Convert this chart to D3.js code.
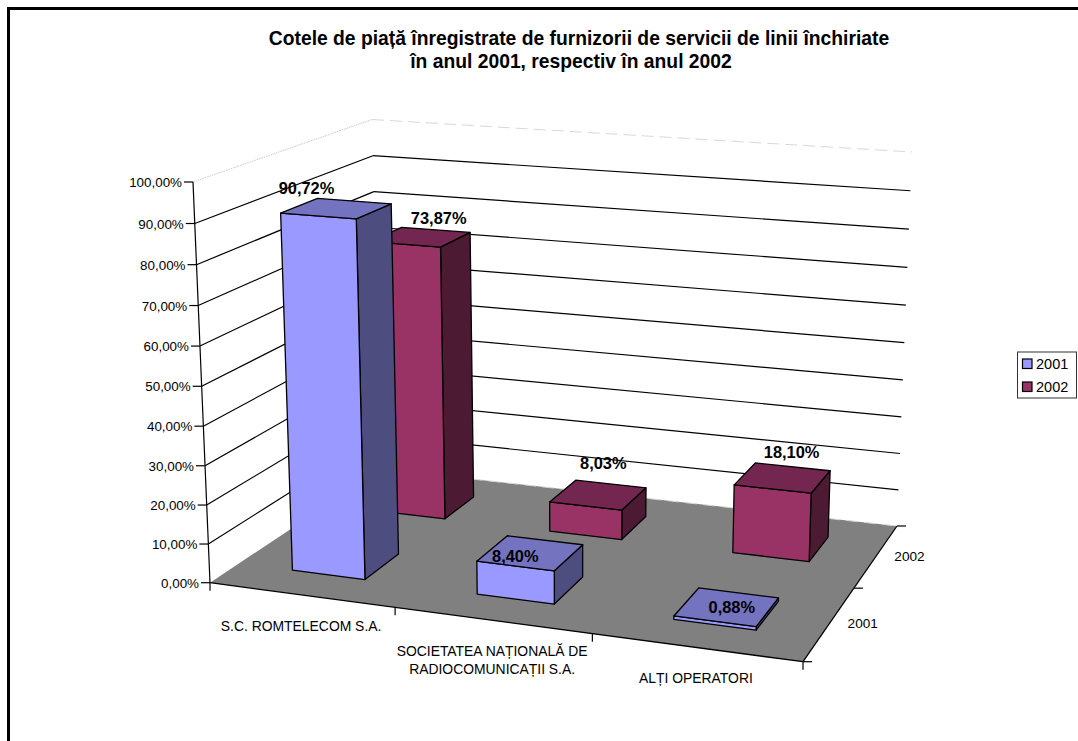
<!DOCTYPE html>
<html>
<head>
<meta charset="utf-8">
<script src="https://cdn.jsdelivr.net/npm/d3@7"></script>
<style>
html, body { margin: 0; padding: 0; background: #fff; }
svg { display: block; font-family: "Liberation Sans", Arial, sans-serif; }
</style>
</head>
<body>
<div id="chart"></div>
<script>
var categories = [["S.C. ROMTELECOM S.A."], ["SOCIETATEA NAȚIONALĂ DE", "RADIOCOMUNICAȚII S.A."], ["ALȚI OPERATORI"]];
var seriesNames = ["2001", "2002"];
var values2001 = [90.72, 8.40, 0.88];
var values2002 = [73.87, 8.03, 18.10];
var titleLines = ["Cotele de piață înregistrate de furnizorii de servicii de linii închiriate", "în anul 2001, respectiv în anul 2002"];
var valueTicks = [0, 10, 20, 30, 40, 50, 60, 70, 80, 90, 100];

var width = 1078, height = 741;

// corners of the 3d box on screen [front left, front right, back right, back left]
var floorQuad = [[210, 582.7], [803, 661.7], [897, 526], [381, 469]];
var topQuad = [[193, 182], [815, 227], [912, 152], [372, 119.5]];
var vCurve = 0.04;

// manual offsets of data labels, same order as the values
var labelNudge2001 = [[-30, -20], [-15, 4], [5, 1]];
var labelNudge2002 = [[18, -18], [5, -31], [9, -25]];

var colors = {
    "2001": { front: "#9999ff", side: "#4d4d80", top: "#7373bf" },
    "2002": { front: "#993366", side: "#4d1a33", top: "#732650" }
};

// unit square -> quad
function homography(q) {
    var sx = q[0][0] - q[1][0] + q[2][0] - q[3][0],
        sy = q[0][1] - q[1][1] + q[2][1] - q[3][1],
        dx1 = q[1][0] - q[2][0], dy1 = q[1][1] - q[2][1],
        dx2 = q[3][0] - q[2][0], dy2 = q[3][1] - q[2][1],
        den = dx1 * dy2 - dx2 * dy1,
        g = (sx * dy2 - dx2 * sy) / den,
        h = (dx1 * sy - sx * dy1) / den;
    return function (u, w) {
        var d = 1 + g * u + h * w;
        return [
            (q[0][0] + (q[1][0] - q[0][0] + g * q[1][0]) * u + (q[3][0] - q[0][0] + h * q[3][0]) * w) / d,
            (q[0][1] + (q[1][1] - q[0][1] + g * q[1][1]) * u + (q[3][1] - q[0][1] + h * q[3][1]) * w) / d
        ];
    };
}
var floorAt = homography(floorQuad), topAt = homography(topQuad);

// u along categories, v up the value axis, w into the depth (all 0..1)
function project(u, v, w) {
    var a = floorAt(u, w), b = topAt(u, w),
        t = v / (1 + vCurve * (1 - v));
    return [a[0] + (b[0] - a[0]) * t, a[1] + (b[1] - a[1]) * t];
}

var x = d3.scaleBand().domain(d3.range(categories.length)).range([0, 1]).paddingInner(0.6).paddingOuter(0.3);
var z = d3.scaleBand().domain(seriesNames).range([0, 1]).paddingInner(0.6).paddingOuter(0.3);
var y = d3.scaleLinear().domain([0, 100]).range([0, 1]);

var svg = d3.select("#chart").append("svg").attr("width", width).attr("height", height);
var line = d3.line();
function poly(pts) { return line(pts) + "Z"; }

// outer frame
svg.append("path").attr("d", "M8.5,741V8.5H1078").attr("fill", "none").attr("stroke", "#000").attr("stroke-width", 3);

// title, second line sits a bit left of centre in the original
svg.append("g").selectAll("text").data(titleLines).enter().append("text")
    .attr("x", function (d, i) { return i === 0 ? 579 : 571; }).attr("y", function (d, i) { return 45 + i * 23; })
    .attr("text-anchor", "middle").attr("font-size", 19.3).attr("font-weight", "bold")
    .text(function (d) { return d; });

// floor
svg.append("path").attr("d", poly([project(0, 0, 0), project(1, 0, 0), project(1, 0, 1), project(0, 0, 1)])).attr("fill", "#808080");

// walls grid
var grid = svg.append("g");
valueTicks.forEach(function (t) {
    var v = y(t), last = t === 100;
    if (t > 0) {
        grid.append("path").attr("d", line([project(0, v, 0), project(0, v, 1)]))
            .attr("fill", "none").attr("stroke", last ? "#c8c8c8" : "#000").attr("stroke-width", last ? 1 : 1.2)
            .attr("stroke-dasharray", last ? "1.5,1" : null);
    }
    grid.append("path").attr("d", line([project(0, v, 1), project(1, v, 1)]))
        .attr("fill", "none").attr("stroke", t === 0 || last ? "#d8d8d8" : "#000").attr("stroke-width", t === 0 || last ? 1 : 1.2)
        .attr("stroke-dasharray", t === 0 || last ? "12,6" : null);
});

// value axis
var axis = svg.append("g");
axis.append("path").attr("d", line([project(0, 0, 0), project(0, 1, 0)])).attr("stroke", "#000").attr("stroke-width", 1.2).attr("fill", "none");
valueTicks.forEach(function (t) {
    var p = project(0, y(t), 0);
    axis.append("path").attr("d", "M" + (p[0] - 9) + "," + p[1] + "H" + p[0]).attr("stroke", "#000").attr("stroke-width", 1.2);
    axis.append("text").attr("x", p[0] - 11).attr("y", p[1] + 5).attr("text-anchor", "end").attr("font-size", 13.4)
        .text(d3.format(".2f")(t).replace(".", ",") + "%");
});
var fl = project(0, 0, 0);
axis.append("path").attr("d", "M" + fl[0] + "," + fl[1] + "V" + (fl[1] + 8)).attr("stroke", "#000").attr("stroke-width", 1.2);

// category axis
var catAxis = svg.append("g");
catAxis.append("path").attr("d", line([project(0, 0, 0), project(1, 0, 0)])).attr("stroke", "#000").attr("stroke-width", 1.3);
d3.range(1, categories.length + 1).forEach(function (i) {
    var p = project(i / categories.length, 0, 0);
    catAxis.append("path").attr("d", "M" + p[0] + "," + p[1] + "V" + (p[1] + 8)).attr("stroke", "#000").attr("stroke-width", 1.2);
});
categories.forEach(function (c, i) {
    var p = project((i + 0.5) / categories.length, 0, 0);
    catAxis.append("text").attr("text-anchor", "middle").attr("font-size", 13.9)
        .selectAll("tspan").data(c).enter().append("tspan")
        .attr("x", p[0]).attr("y", function (d, k) { return p[1] + 36 + k * 18; })
        .text(function (d) { return d; });
});

// series axis
var serAxis = svg.append("g");
serAxis.append("path").attr("d", line([project(1, 0, 0), project(1, 0, 1)])).attr("stroke", "#000").attr("stroke-width", 1.3);
d3.range(0, seriesNames.length + 1).forEach(function (i) {
    var p = project(1, 0, i / seriesNames.length);
    serAxis.append("path").attr("d", "M" + p[0] + "," + p[1] + "h9").attr("stroke", "#000").attr("stroke-width", 1.2);
});
seriesNames.forEach(function (s, i) {
    var p = project(1, 0, (i + 0.5) / seriesNames.length);
    serAxis.append("text").attr("x", p[0] + 18).attr("y", p[1] + 5).attr("font-size", 13.6).text(s);
});

// bars, back row first
var bars = svg.append("g").attr("stroke", "#000").attr("stroke-width", 1.3).attr("stroke-linejoin", "round");
var labels = [];
function drawRow(name, vals, nudge) {
    vals.forEach(function (val, i) {
        var u0 = x(i), u1 = u0 + x.bandwidth(), w0 = z(name), w1 = w0 + z.bandwidth(), v = y(val), c = colors[name];
        bars.append("path").attr("fill", c.side).attr("d", poly([project(u1, 0, w0), project(u1, 0, w1), project(u1, v, w1), project(u1, v, w0)]));
        bars.append("path").attr("fill", c.front).attr("d", poly([project(u0, 0, w0), project(u1, 0, w0), project(u1, v, w0), project(u0, v, w0)]));
        bars.append("path").attr("fill", c.top).attr("d", poly([project(u0, v, w0), project(u1, v, w0), project(u1, v, w1), project(u0, v, w1)]));
        var p = project((u0 + u1) / 2, v, (w0 + w1) / 2);
        labels.push({ x: p[0] + nudge[i][0], y: p[1] + nudge[i][1], text: d3.format(".2f")(val).replace(".", ",") + "%" });
    });
}
drawRow("2002", values2002, labelNudge2002);
drawRow("2001", values2001, labelNudge2001);

// data labels
svg.append("g").selectAll("text").data(labels).enter().append("text")
    .attr("x", function (d) { return d.x; }).attr("y", function (d) { return d.y + 5.5; })
    .attr("text-anchor", "middle").attr("font-size", 16.4).attr("font-weight", "bold")
    .text(function (d) { return d.text; });

// legend
var legend = svg.append("g").attr("transform", "translate(1017.5,352)");
legend.append("rect").attr("width", 59).attr("height", 46).attr("fill", "#fff").attr("stroke", "#333").attr("stroke-width", 1);
seriesNames.forEach(function (s, i) {
    legend.append("rect").attr("x", 5).attr("y", 7 + i * 23).attr("width", 9.5).attr("height", 9.5)
        .attr("fill", colors[s].front).attr("stroke", "#000").attr("stroke-width", 1.2);
    legend.append("text").attr("x", 18.5).attr("y", 17 + i * 23).attr("font-size", 14.5).text(s);
});
</script>
</body>
</html>
